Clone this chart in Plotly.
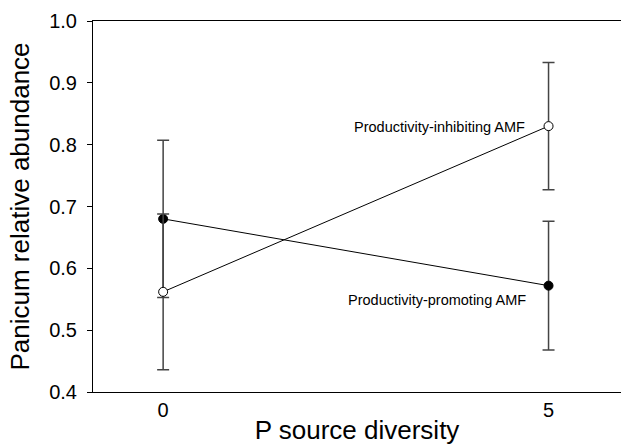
import plotly.graph_objects as go

x_vals = [0, 5]
promoting = [0.680, 0.572]
promoting_err = [0.127, 0.104]
inhibiting = [0.562, 0.830]
inhibiting_err = [0.126, 0.103]
y_ticks = [0.4, 0.5, 0.6, 0.7, 0.8, 0.9, 1.0]
x_ticks = [0, 5]

font = "Liberation Sans, Arial, sans-serif"
fig = go.Figure()
for ys, errs, fill in [(promoting, promoting_err, "black"), (inhibiting, inhibiting_err, "white")]:
    fig.add_trace(go.Scatter(
        x=x_vals, y=ys, mode="lines+markers",
        line=dict(color="black", width=1),
        marker=dict(size=9, color=fill, line=dict(color="black", width=1)),
        error_y=dict(type="data", array=errs, color="#444", thickness=1.5, width=6),
        showlegend=False))

fig.add_annotation(x=5, y=inhibiting[1], text="Productivity-inhibiting AMF", showarrow=False,
                   xanchor="right", xshift=-22, yshift=-1, font=dict(size=14.5, color="black", family=font))
fig.add_annotation(x=5, y=promoting[1], text="Productivity-promoting AMF", showarrow=False,
                   xanchor="right", xshift=-21, yshift=-14, font=dict(size=14.5, color="black", family=font))

fig.update_layout(
    width=621, height=445, margin=dict(l=93, r=0, t=21, b=53),
    plot_bgcolor="white", paper_bgcolor="white",
    font=dict(family=font, color="black"),
    xaxis=dict(range=[-0.91, 5.94], tickvals=x_ticks, ticks="", showgrid=False, zeroline=False,
               showline=True, linecolor="black", linewidth=1, mirror=True, automargin=False,
               tickfont=dict(size=20),
               title=dict(text="P source diversity", font=dict(size=26), standoff=12)),
    yaxis=dict(range=[0.4, 1.0], tickvals=y_ticks, tickformat=".1f", ticks="outside", ticklen=5,
               tickcolor="black", showgrid=False, zeroline=False, automargin=False,
               showline=True, linecolor="black", linewidth=1, mirror=False,
               tickfont=dict(size=20), ticklabelstandoff=6,
               title=dict(text="Panicum relative abundance", font=dict(size=26), standoff=12)),
)
fig.write_html("out.html")
